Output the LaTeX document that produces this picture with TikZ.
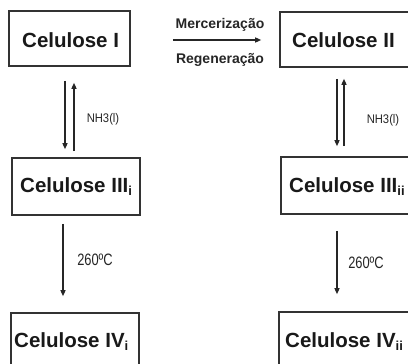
\documentclass[tikz,border=0pt]{standalone}
\usepackage{fontspec}
\setmainfont{Liberation Sans}
\usetikzlibrary{arrows.meta,calc}
\tikzset{
  box/.style={draw=black!80, line width=1.6pt, fill=white, inner sep=0pt},
  boxtxt/.style={anchor=base west, inner sep=0pt, font=\fontsize{20.5}{24}\selectfont\bfseries, text=black!90},
  arr/.style={draw=black!85, line width=1.3pt, -{Triangle[length=6pt,width=5pt]}},
  condlbl/.style={inner sep=0pt, text=black!85},
  toplbl/.style={inner sep=0pt, font=\fontsize{14}{16}\selectfont\bfseries, text=black!85}
}
\newcommand{\subx}[1]{\raisebox{-3pt}{\fontsize{13}{13}\selectfont #1}}
\begin{document}
\begin{tikzpicture}[x=1pt,y=-1pt]
\useasboundingbox (0,0) rectangle (408,364);
\clip (0,0) rectangle (408,364);
\fill[white] (0,0) rectangle (408,364);
% boxes
\node[box, minimum width=121pt, minimum height=55pt] (c1) at (69.5,38.5) {};
\node[box, minimum width=140pt, minimum height=55pt] (c2) at (350,39.5) {};
\node[box, minimum width=128pt, minimum height=57pt] (c3i) at (76,186.5) {};
\node[box, minimum width=139pt, minimum height=57pt] (c3ii) at (350.5,185.5) {};
\node[box, minimum width=128pt, minimum height=67pt] (c4i) at (75,346.5) {};
\node[box, minimum width=141pt, minimum height=68pt] (c4ii) at (349.5,346) {};
% box texts
\node[boxtxt] (t1) at (22,47) {Celulose I};
\node[boxtxt] (t2) at (292,47) {Celulose II};
\node[boxtxt] (t3i) at (20,192) {Celulose III\subx{i}};
\node[boxtxt] (t3ii) at (289,192) {Celulose III\subx{ii}};
\node[boxtxt] (t4i) at (14,347) {Celulose IV\subx{i}};
\node[boxtxt] (t4ii) at (285,347) {Celulose IV\subx{ii}};
% horizontal arrow
\draw[arr] ($(c1.east)+(42,1.5)$) -- ($(c2.west)+(-18,0.5)$);
\node[toplbl] (merc) at (220,25) {Mercerização};
\node[toplbl] (reg) at (220,60) {Regeneração};
% left double arrows
\draw[arr] ($(c1.south)+(-4.5,14)$) -- ($(c1.south |- c3i.north)+(-4.5,-8)$);
\draw[arr] ($(c1.south |- c3i.north)+(4.5,-6)$) -- ($(c1.south)+(4.5,16)$);
\node[condlbl] (nh3a) at (103,119) {\scalebox{0.9}[1]{\fontsize{12.5}{14}\selectfont NH3(l)}};
% right double arrows
\draw[arr] ($(c2.south)+(-13,11)$) -- ($(c2.south |- c3ii.north)+(-13,-10)$);
\draw[arr] ($(c2.south |- c3ii.north)+(-6,-10)$) -- ($(c2.south)+(-6,11)$);
\node[condlbl] (nh3b) at (383,120) {\scalebox{0.9}[1]{\fontsize{12.5}{14}\selectfont NH3(l)}};
% lower arrows
\draw[arr] ($(c3i.south)+(-13,8)$) -- ($(c3i.south |- c4i.north)+(-13,-16)$);
\node[condlbl] (ta) at (95,260) {\scalebox{0.78}[1]{\fontsize{16.5}{18}\selectfont 260ºC}};
\draw[arr] ($(c3ii.south)+(-13.5,16)$) -- ($(c3ii.south |- c4ii.north)+(-13.5,-17)$);
\node[condlbl] (tb) at (366,263) {\scalebox{0.78}[1]{\fontsize{16.5}{18}\selectfont 260ºC}};
\end{tikzpicture}
\end{document}
